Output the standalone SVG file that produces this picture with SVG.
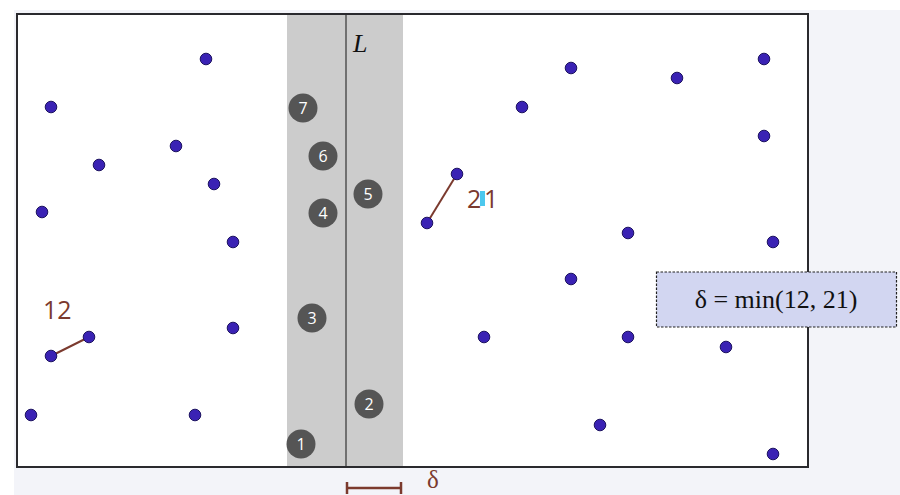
<svg xmlns="http://www.w3.org/2000/svg" width="900" height="495" viewBox="0 0 900 495">
<defs>
<style>
.pt{fill:#3a22b4;stroke:#1c1260;stroke-width:1}
.seg{stroke:#7b3a2e;stroke-width:2;fill:none}
.nc{fill:#555555}
.nt{fill:#ffffff;font-family:"Open Sans","DejaVu Sans",sans-serif;font-size:16px;text-anchor:middle}
.dist{fill:#7b3a2e;font-family:"Open Sans","Liberation Sans",sans-serif;font-size:25px;font-weight:400}
.serif{font-family:"Liberation Serif","Times New Roman",serif}
</style>
</defs>
<rect x="0" y="0" width="900" height="495" fill="#ffffff"/>
<rect x="14" y="10" width="886" height="485" fill="#f3f4f9"/>
<g id="plane">
<rect x="17" y="14" width="791" height="453" fill="#ffffff"/>
<rect x="287" y="14" width="116" height="453" fill="#cccccc"/>
<line x1="346" y1="14" x2="346" y2="467" stroke="#333333" stroke-width="1.2"/>
<rect x="17" y="14" width="791" height="453" fill="none" stroke="#2a2a2e" stroke-width="2"/>
<text x="353" y="52" class="serif" font-size="26" font-style="italic" fill="#111111">L</text>
</g>
<g id="connectors">
<line class="seg" x1="51" y1="356" x2="89" y2="337"/>
<line class="seg" x1="427" y1="223" x2="457" y2="174"/>
<line x1="347" y1="488" x2="401" y2="488" stroke="#7b3a2e" stroke-width="2.5"/>
<line x1="347" y1="482" x2="347" y2="494" stroke="#7b3a2e" stroke-width="2.5"/>
<line x1="401" y1="482" x2="401" y2="494" stroke="#7b3a2e" stroke-width="2.5"/>
</g>
<g id="points">
<circle class="pt" cx="206" cy="59" r="5.8"/>
<circle class="pt" cx="51" cy="107" r="5.8"/>
<circle class="pt" cx="99" cy="165" r="5.8"/>
<circle class="pt" cx="176" cy="146" r="5.8"/>
<circle class="pt" cx="214" cy="184" r="5.8"/>
<circle class="pt" cx="42" cy="212" r="5.8"/>
<circle class="pt" cx="233" cy="242" r="5.8"/>
<circle class="pt" cx="233" cy="328" r="5.8"/>
<circle class="pt" cx="89" cy="337" r="5.8"/>
<circle class="pt" cx="51" cy="356" r="5.8"/>
<circle class="pt" cx="31" cy="415" r="5.8"/>
<circle class="pt" cx="195" cy="415" r="5.8"/>
<circle class="pt" cx="571" cy="68" r="5.8"/>
<circle class="pt" cx="677" cy="78" r="5.8"/>
<circle class="pt" cx="764" cy="59" r="5.8"/>
<circle class="pt" cx="522" cy="107" r="5.8"/>
<circle class="pt" cx="764" cy="136" r="5.8"/>
<circle class="pt" cx="457" cy="174" r="5.8"/>
<circle class="pt" cx="427" cy="223" r="5.8"/>
<circle class="pt" cx="628" cy="233" r="5.8"/>
<circle class="pt" cx="773" cy="242" r="5.8"/>
<circle class="pt" cx="571" cy="279" r="5.8"/>
<circle class="pt" cx="484" cy="337" r="5.8"/>
<circle class="pt" cx="628" cy="337" r="5.8"/>
<circle class="pt" cx="726" cy="347" r="5.8"/>
<circle class="pt" cx="600" cy="425" r="5.8"/>
<circle class="pt" cx="773" cy="454" r="5.8"/>
</g>
<g id="n7"><circle class="nc" cx="303" cy="108" r="14.5"/><text class="nt" x="303" y="114">7</text></g>
<g id="n6"><circle class="nc" cx="323" cy="156" r="14.5"/><text class="nt" x="323" y="162">6</text></g>
<g id="n5"><circle class="nc" cx="368" cy="194" r="14.5"/><text class="nt" x="368" y="200">5</text></g>
<g id="n4"><circle class="nc" cx="323" cy="213" r="14.5"/><text class="nt" x="323" y="219">4</text></g>
<g id="n3"><circle class="nc" cx="312" cy="318" r="14.5"/><text class="nt" x="312" y="324">3</text></g>
<g id="n2"><circle class="nc" cx="369" cy="404" r="14.5"/><text class="nt" x="369" y="410">2</text></g>
<g id="n1"><circle class="nc" cx="301" cy="444" r="14.5"/><text class="nt" x="301" y="450">1</text></g>
<g id="labels">
<text class="dist" x="43" y="319">12</text>
<rect x="480" y="191" width="5" height="15" fill="#4cc8ee"/>
<text class="dist" x="467" y="208">2</text>
<text class="dist" x="484" y="208">1</text>
<text x="427" y="488" class="serif" font-size="25" fill="#7b3a2e">δ</text>
</g>
<g id="delta-box">
<rect x="656.5" y="272" width="240" height="55" fill="#d2d6f1" stroke="#222222" stroke-width="1.2" stroke-dasharray="2.5,1.5"/>
<text x="776" y="308" class="serif" font-size="26" text-anchor="middle" fill="#111111">δ = min(12, 21)</text>
</g>
</svg>
